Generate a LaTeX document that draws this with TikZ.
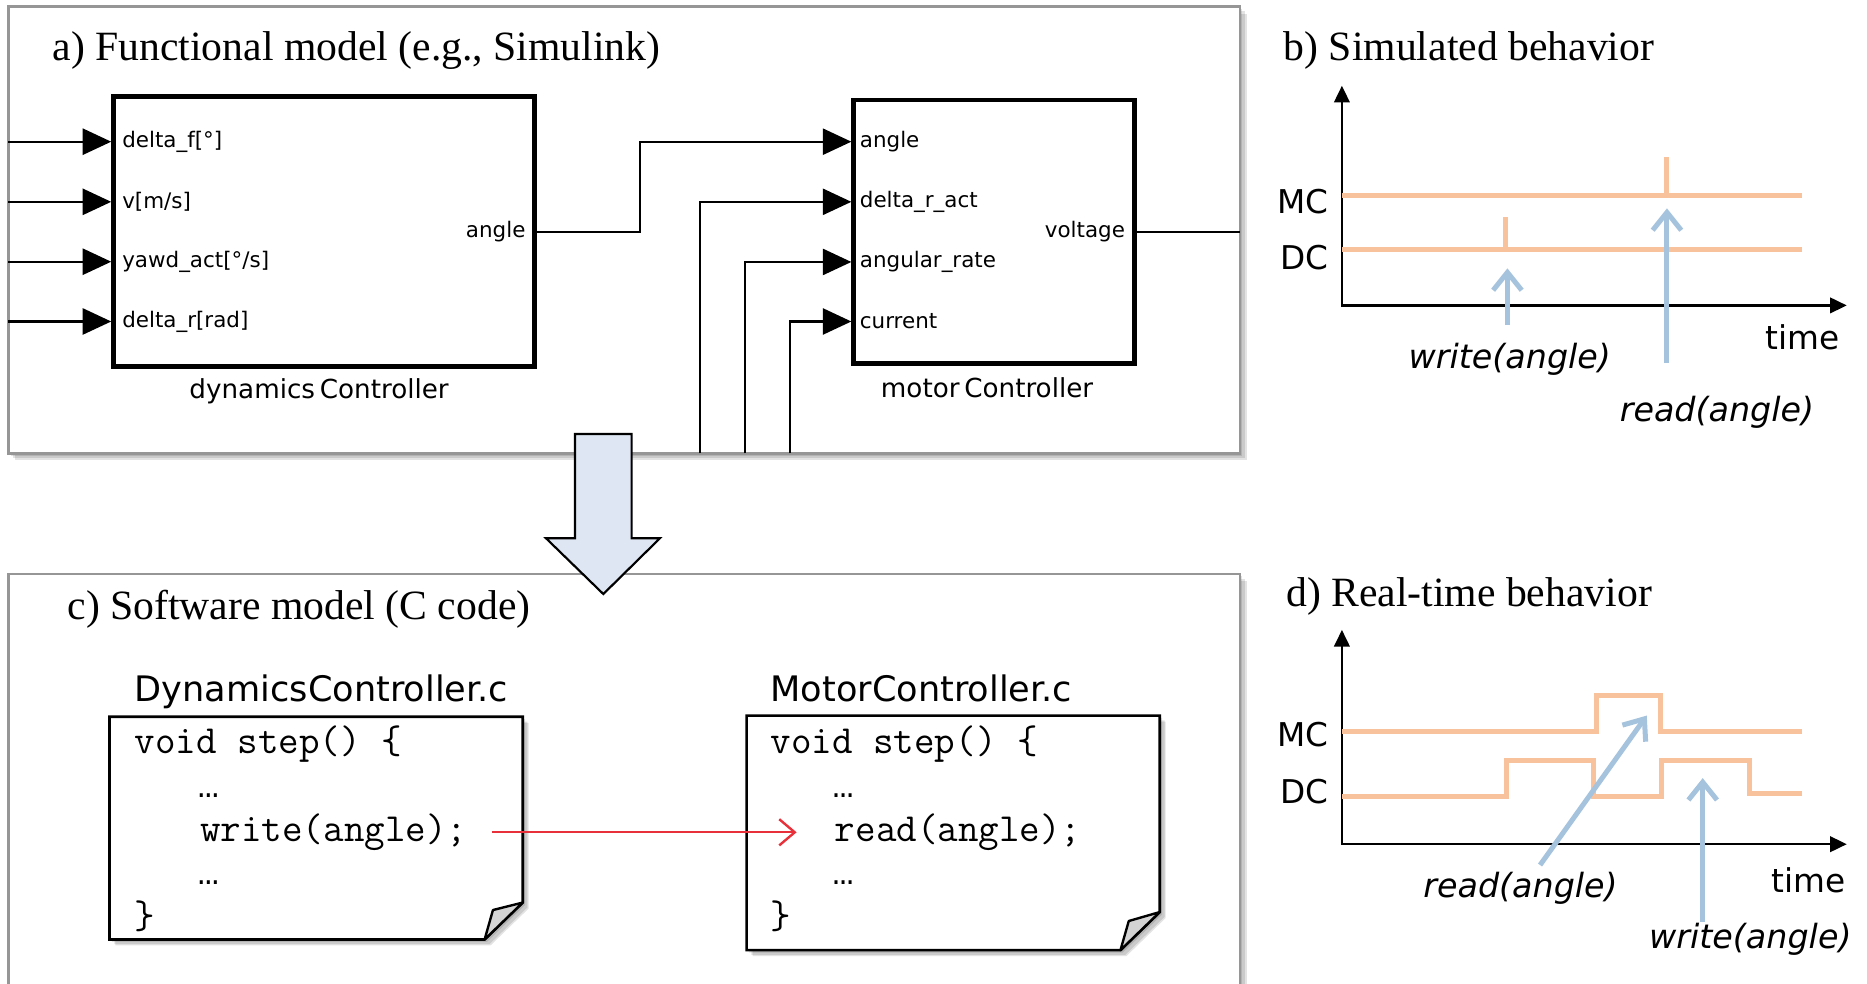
\documentclass[tikz,border=0pt]{standalone}
\usepackage{fontspec}
\setmainfont{Liberation Serif}
\newfontfamily\labfont{DejaVu Sans}
\newfontfamily\dotfont{Liberation Mono}
\usetikzlibrary{arrows.meta}
\newcommand\setsize[1]{\fontsize{#1}{#1}\selectfont}
% soft drop shadow below and right of a closed path
\newcommand\softshadow[2][6]{%
  \foreach \s in {2,4,#1}{\fill[black,opacity=0.11,shift={(\s,\s)}] #2;}}
\definecolor{panelgray}{RGB}{150,150,150}
\definecolor{peach}{RGB}{248,194,156}
\definecolor{sky}{RGB}{166,195,222}
\definecolor{arrowfill}{RGB}{221,230,242}
\definecolor{foldgray}{RGB}{212,212,212}
\definecolor{linkred}{RGB}{232,48,58}

\begin{document}
\begin{tikzpicture}[x=1pt,y=-1pt,
  panel/.style={draw=panelgray,line width=2.2pt,fill=white},
  title/.style={anchor=base west,inner sep=0,font=\setsize{35}},
  blk/.style={draw,line width=4pt,fill=white,inner sep=0},
  port/.style={anchor=west,inner sep=0,font=\labfont\setsize{18}},
  outport/.style={anchor=east,inner sep=0,font=\labfont\setsize{18}},
  blkname/.style={inner sep=0,font=\labfont\setsize{22}},
  sig/.style={line width=1.8pt},
  sigin/.style={sig,-{Triangle[length=24pt,width=22pt]}},
  axis/.style={line width=2pt,{Triangle[length=14pt,width=13pt]}-{Triangle[length=14pt,width=13pt]}},
  trace/.style={draw=peach,line width=4.2pt,line join=miter},
  probe/.style={draw=sky,line width=4.2pt,-{Straight Barb[length=15pt,width=24pt]}},
  lane/.style={anchor=east,inner sep=0,font=\labfont\setsize{27.5}},
  tlabel/.style={inner sep=0,font=\labfont\setsize{27.5}},
  call/.style={inner sep=0,font=\labfont\itshape\setsize{28}},
  fname/.style={anchor=base west,inner sep=0,font=\labfont\setsize{29.5}},
  code/.style={anchor=base west,inner sep=0,font=\ttfamily\setsize{33.5}},
  dots/.style={anchor=base west,inner sep=0,font=\dotfont\setsize{29.5}},
  doc/.style={draw,line width=2.2pt,fill=white,line join=miter},
  flap/.style={draw,line width=2pt,fill=foldgray,line join=round},
  link/.style={draw=linkred,line width=2pt,-{Straight Barb[length=13pt,width=22pt]}},
  bigarrow/.style={draw,line width=1.8pt,fill=arrowfill,line join=miter}
]
\useasboundingbox (0,0) rectangle (1568,826);
\clip (0,0) rectangle (1568,826);
\fill[white] (0,0) rectangle (1568,826);

% ---------- panel frames ----------
\softshadow{(7,5.6) rectangle (1041.4,380.7)}
\draw[panel] (7,5.6) rectangle (1041.4,380.7);
\softshadow{(7,482) rectangle (1041.4,880)}
\draw[panel] (7,482) rectangle (1041.4,880);

% ---------- a) functional model ----------
\node[title] (ta) at (44,51) {a) Functional model (e.g., Simulink)};

\node[blk,minimum width=353.6pt,minimum height=226.8pt] (dyn) at (272.2,194.6) {};
\node[blk,minimum width=236pt,minimum height=221pt] (mot) at (835,194.5) {};

\coordinate (dyn-i1) at (dyn.west |- 0,119);
\coordinate (dyn-i2) at (dyn.west |- 0,169.5);
\coordinate (dyn-i3) at (dyn.west |- 0,219.8);
\coordinate (dyn-i4) at (dyn.west |- 0,270);
\coordinate (src1) at (7,119);
\coordinate (src2) at (7,169.5);
\coordinate (src3) at (7,219.8);
\coordinate (src4) at (7,270);
\draw[sigin] (src1) -- (dyn-i1);
\draw[sigin] (src2) -- (dyn-i2);
\draw[sigin] (src3) -- (dyn-i3);
\draw[sigin] (src4) -- (dyn-i4);

\node[port] (p-df) at (102.5,119) {delta\_f[°]};
\node[port] (p-v) at (102.5,169.5) {v[m/s]};
\node[port] (p-yaw) at (102.5,219.8) {yawd\_act[°/s]};
\node[port] (p-dr) at (102.5,270) {delta\_r[rad]};
\node[outport] (p-angle) at (441.5,194.6) {angle};
\node[blkname] (n-dyn) at (268,329) {dynamics\hspace{4pt}Controller};

\coordinate (mot-i1) at (mot.west |- 0,119);
\coordinate (mot-i2) at (mot.west |- 0,169.5);
\coordinate (mot-i3) at (mot.west |- 0,220);
\coordinate (mot-i4) at (mot.west |- 0,270);
\coordinate (feed2) at (588,380.7);
\coordinate (feed3) at (625.7,380.7);
\coordinate (feed4) at (663.5,380.7);
\coordinate (vout) at (1041.4,194.5);

\draw[sigin] (dyn.east) -- (537.5,194.6) |- (mot-i1);
\draw[sigin] (feed2) |- (mot-i2);
\draw[sigin] (feed3) |- (mot-i3);
\draw[sigin] (feed4) |- (mot-i4);
\draw[sig] (mot.east) -- (vout);

\node[port] (q-angle) at (722,119) {angle};
\node[port] (q-dra) at (722,169.5) {delta\_r\_act};
\node[port] (q-rate) at (722,220) {angular\_rate};
\node[port] (q-cur) at (722,270) {current};
\node[outport] (q-volt) at (945,194.6) {voltage};
\node[blkname] (n-mot) at (829,326) {motor\hspace{4pt}Controller};

% ---------- b) simulated behavior ----------
\node[title] (tb) at (1078,51) {b) Simulated behavior};
\coordinate (b-o) at (1127,256.5);
\coordinate (b-y) at (1127,72);
\coordinate (b-x) at (1551,256.5);
\draw[axis] (b-y) -- (b-o) -- (b-x);
\node[lane] (b-mc) at (1116,169) {MC};
\node[lane] (b-dc) at (1116,216) {DC};
\draw[trace] (1127,163.8) -- (1513.5,163.8);
\draw[trace] (1400,163.8) -- (1400,131.6);
\draw[trace] (1127,209.4) -- (1513.5,209.4);
\draw[trace] (1264.5,209.4) -- (1264.5,182);
\node[call] (b-w) at (1268,302) {write(angle)};
\node[call] (b-r) at (1442,346) {read(angle)};
\node[tlabel] (b-t) at (1514,283) {time};
\coordinate (b-w0) at (1266,273);
\coordinate (b-w1) at (1266,225.4);
\coordinate (b-r0) at (1400,305);
\coordinate (b-r1) at (1400,175);
\draw[probe] (b-w0) -- (b-w1);
\draw[probe] (b-r0) -- (b-r1);

% ---------- c) software model ----------
\node[title] (tc) at (56.5,520) {c) Software model (C code)};

\node[fname] (f-dyn) at (113,589) {DynamicsController.c};
\node[fname] (f-mot) at (647,589) {MotorController.c};

\softshadow[5]{(92,602) -- (439,602) -- (439,758) -- (407,789) -- (92,789) -- cycle}
\draw[doc] (92,602) -- (439,602) -- (439,758) -- (407,789) -- (92,789) -- cycle;
\draw[flap] (407,789) -- (414,764.3) -- (439,758) -- cycle;

\softshadow[5]{(627,601) -- (974,601) -- (974,766) -- (941,798) -- (627,798) -- cycle}
\draw[doc] (627,601) -- (974,601) -- (974,766) -- (941,798) -- (627,798) -- cycle;
\draw[flap] (941,798) -- (948,773.5) -- (974,766) -- cycle;

\node[code] (d1) at (113,633) {void step() \{};
\node[dots] (d2) at (166,670) {…};
\node[code] (d3) at (168,706.5) {write(angle);};
\node[dots] (d4) at (166,743) {…};
\node[code] (d5) at (113,780) {\}};

\node[code] (m1) at (647,633) {void step() \{};
\node[dots] (m2) at (699,670) {…};
\node[code] (m3) at (701,706.5) {read(angle);};
\node[dots] (m4) at (699,743) {…};
\node[code] (m5) at (647,780) {\}};

\draw[link] (413,699) -- ([xshift=-32pt]m3.west |- 0,699);

% ---------- d) real-time behavior ----------
\node[title] (td) at (1080,509) {d) Real-time behavior};
\coordinate (d-o) at (1127,709);
\coordinate (d-y) at (1127,529);
\coordinate (d-x) at (1551,709);
\draw[axis] (d-y) -- (d-o) -- (d-x);
\node[lane] (d-mc) at (1116,617) {MC};
\node[lane] (d-dc) at (1116,665) {DC};
\draw[trace] (1127,614.5) -- (1341,614.5) -- (1341,584.5) -- (1394.5,584.5)
  -- (1394.5,614.5) -- (1513.5,614.5);
\draw[trace] (1127,669) -- (1265,669) -- (1265,638.5) -- (1338.5,638.5)
  -- (1338.5,669) -- (1395.5,669) -- (1395.5,638.5) -- (1469,638.5)
  -- (1469,666.5) -- (1513.5,666.5);
\node[call] (d-r) at (1277,746) {read(angle)};
\node[call] (d-w) at (1470,789) {write(angle)};
\node[tlabel] (d-t) at (1519,739) {time};
\coordinate (d-r0) at (1293.4,726.5);
\coordinate (d-r1) at (1383,601);
\coordinate (d-w0) at (1430,774);
\coordinate (d-w1) at (1430,653.5);
\draw[probe] (d-r0) -- (d-r1);
\draw[probe] (d-w0) -- (d-w1);

% ---------- transformation arrow ----------
\draw[bigarrow] (482.9,364.5) -- (530.5,364.5) -- (530.5,452) -- (554.3,452)
  -- (506.7,498.9) -- (458.5,452) -- (482.9,452) -- cycle;
\end{tikzpicture}
\end{document}
